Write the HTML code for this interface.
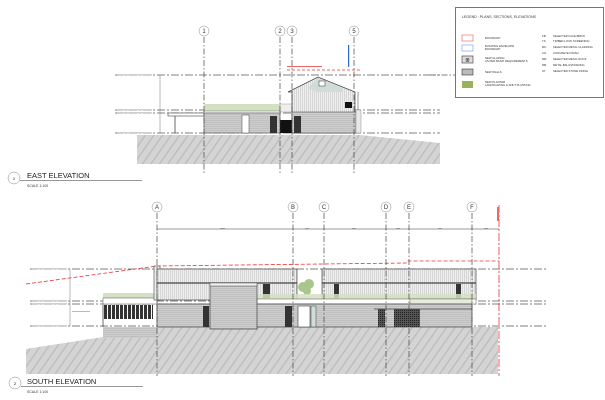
<!DOCTYPE html>
<html><head><meta charset="utf-8"><style>
html,body{margin:0;padding:0;background:#fff;}
svg{display:block;font-family:"Liberation Sans",sans-serif;}
</style></head><body>
<svg width="605" height="400" viewBox="0 0 605 400" xmlns="http://www.w3.org/2000/svg">
<defs>
<pattern id="hatch" width="7" height="7" patternUnits="userSpaceOnUse" patternTransform="rotate(35)">
<rect width="7" height="7" fill="#d4d4d4"/><line x1="0" y1="0" x2="0" y2="7" stroke="#bbb" stroke-width="2.5"/></pattern>
<pattern id="vstripe" width="2" height="4" patternUnits="userSpaceOnUse">
<rect width="2" height="4" fill="#efefef"/><line x1="0.5" y1="0" x2="0.5" y2="4" stroke="#bdbdbd" stroke-width="0.5"/></pattern>
<pattern id="brick" width="3" height="2" patternUnits="userSpaceOnUse">
<rect width="3" height="2" fill="#cdcdcd"/><line x1="0" y1="0.5" x2="3" y2="0.5" stroke="#b4b4b4" stroke-width="0.5"/></pattern>
<pattern id="slat" width="4" height="4" patternUnits="userSpaceOnUse">
<rect width="4" height="4" fill="#fff"/><rect width="3" height="4" fill="#333"/></pattern>
<pattern id="screen" width="2" height="2" patternUnits="userSpaceOnUse">
<rect width="2" height="2" fill="#555"/><rect width="1" height="1" fill="#222"/></pattern>
</defs>

<!-- ===== EAST ELEVATION ===== -->
<polygon points="137,135 360,135 430,142 440,143 440,164 137,164" fill="url(#hatch)"/>
<g stroke="#555" stroke-width="0.7" stroke-dasharray="8,2,2,2" fill="none">
<line x1="115" y1="75" x2="440" y2="75"/>
<line x1="115" y1="110" x2="440" y2="110"/>
<line x1="115" y1="113" x2="440" y2="113"/>
<line x1="115" y1="133" x2="440" y2="133"/>
</g>
<line x1="160" y1="75" x2="160" y2="133" stroke="#777" stroke-width="0.5"/>
<g fill="#bbb"><rect x="117" y="74.3" width="35" height="1"/><rect x="117" y="109.3" width="35" height="1"/><rect x="117" y="112.3" width="35" height="1"/><rect x="117" y="132.3" width="35" height="1"/></g>
<rect x="168" y="113" width="36" height="3" fill="#fff" stroke="#444" stroke-width="0.6"/>
<line x1="175" y1="116" x2="175" y2="133" stroke="#444" stroke-width="0.8"/>
<rect x="204" y="104" width="76" height="7" fill="#d3e0c2"/>
<rect x="204" y="111" width="76" height="2" fill="#fff" stroke="#555" stroke-width="0.4"/>
<rect x="204" y="113" width="76" height="20" fill="url(#brick)" stroke="#555" stroke-width="0.6"/>
<rect x="242" y="115" width="7" height="18" fill="#fff" stroke="#444" stroke-width="0.5"/>
<rect x="270" y="116" width="7" height="17" fill="#333"/>
<rect x="280" y="104" width="12" height="8" fill="#eee" stroke="#888" stroke-width="0.4"/>
<rect x="280" y="120" width="12" height="13" fill="#111"/>
<polygon points="288,92 318,77 355,92 355,133 292,133 292,92" fill="url(#vstripe)" stroke="#444" stroke-width="0.7"/>
<polygon points="318,78 343,88 343,92 317,92 308,88" fill="#cfdcd9"/>
<rect x="319" y="81" width="6" height="5" fill="#fff" stroke="#333" stroke-width="0.5"/>
<rect x="292" y="112" width="64" height="21" fill="url(#brick)" stroke="#555" stroke-width="0.6"/>
<rect x="294" y="116" width="7" height="17" fill="#333"/>
<rect x="345" y="102" width="7" height="6" fill="#111"/>
<line x1="358" y1="92" x2="358" y2="110" stroke="#555" stroke-width="0.6"/>
<rect x="356" y="110" width="5" height="23" fill="#e8e8e8" stroke="#777" stroke-width="0.4"/>
<line x1="287" y1="70" x2="360" y2="70" stroke="#e33" stroke-width="0.7" stroke-dasharray="3,2"/>
<rect x="287" y="66" width="35" height="1" fill="#e66"/>
<rect x="348" y="45" width="1.2" height="22" fill="#36c"/>
<g stroke="#444" stroke-width="0.7" stroke-dasharray="6,2,1.5,2">
<line x1="204" y1="37" x2="204" y2="174"/><line x1="280" y1="37" x2="280" y2="174"/>
<line x1="292" y1="37" x2="292" y2="174"/><line x1="354" y1="37" x2="354" y2="174"/>
</g>
<g fill="#fff" stroke="#888" stroke-width="0.5">
<circle cx="204" cy="31" r="5"/><circle cx="280" cy="31" r="5"/><circle cx="292" cy="31" r="5"/><circle cx="354" cy="31" r="5"/>
</g>
<g font-size="6" text-anchor="middle" fill="#333">
<text x="204" y="33.2">1</text><text x="280" y="33.2">2</text><text x="292" y="33.2">3</text><text x="354" y="33.2">5</text>
</g>
<circle cx="14" cy="178" r="6" fill="#fff" stroke="#888" stroke-width="0.5"/>
<text x="14" y="180" font-size="4" text-anchor="middle">1</text>
<text x="27" y="178" font-size="7.5" fill="#222">EAST ELEVATION</text>
<line x1="20" y1="180.5" x2="142" y2="180.5" stroke="#333" stroke-width="0.5"/>
<text x="27" y="187" font-size="3.5" fill="#333">SCALE  1:100</text>

<!-- ===== LEGEND ===== -->
<rect x="455.5" y="7.5" width="148" height="90" fill="#fff" stroke="#555" stroke-width="0.8"/>
<text x="462" y="18" font-size="3.6" fill="#333">LEGEND : PLANS, SECTIONS, ELEVATIONS</text>
<rect x="462" y="35" width="11" height="6" fill="#fff" stroke="#e55" stroke-width="0.6"/>
<rect x="462" y="45" width="11" height="6" fill="#fff" stroke="#69f" stroke-width="0.6"/>
<rect x="462" y="56" width="11" height="7" fill="#ddd" stroke="#333" stroke-width="0.6"/>
<text x="467.5" y="61.5" font-size="5" text-anchor="middle">⊞</text>
<rect x="462" y="69" width="11" height="6" fill="#bbb" stroke="#333" stroke-width="0.6"/>
<rect x="462" y="81" width="11" height="7" fill="#9ab35a"/>
<g font-size="2.8" fill="#333">
<text x="485" y="39">BOUNDARY</text>
<text x="485" y="47">BUILDING ENVELOPE</text><text x="485" y="50">BOUNDARY</text>
<text x="485" y="59">NEW GLAZING</text><text x="485" y="62">AS PER BASIX REQUIREMENTS</text>
<text x="485" y="73">NEW WALLS</text>
<text x="485" y="83">NEW PLANTER</text><text x="485" y="86">LANDSCAPING &amp; SOFT PLANTING</text>
<text x="542" y="37">FB</text><text x="553" y="37">SELECTED FACE BRICK</text>
<text x="542" y="42">TS</text><text x="553" y="42">TIMBER LOOK SCREENING</text>
<text x="542" y="48">MC</text><text x="553" y="48">SELECTED METAL CLADDING</text>
<text x="542" y="54">CO</text><text x="553" y="54">CONCRETE FINISH</text>
<text x="542" y="60">MR</text><text x="553" y="60">SELECTED METAL ROOF</text>
<text x="542" y="66">MB</text><text x="553" y="66">METAL BALUSTRADING</text>
<text x="542" y="72">ST</text><text x="553" y="72">SELECTED STONE FINISH</text>
</g>
<line x1="430" y1="75" x2="455" y2="75" stroke="#555" stroke-width="0.7" stroke-dasharray="6,2,1.5,2"/>

<!-- ===== SOUTH ELEVATION ===== -->
<polygon points="26,349 103,337 103,327 498,327 498,374 26,374" fill="url(#hatch)"/>
<rect x="103" y="327" width="54" height="11" fill="url(#brick)"/>
<g stroke="#555" stroke-width="0.7" stroke-dasharray="8,2,2,2" fill="none">
<line x1="30" y1="269" x2="547" y2="269"/>
<line x1="30" y1="301" x2="547" y2="301"/>
<line x1="30" y1="304" x2="547" y2="304"/>
<line x1="30" y1="326" x2="547" y2="326"/>
</g>
<line x1="70" y1="269" x2="70" y2="326" stroke="#777" stroke-width="0.5"/>
<g fill="#bbb"><rect x="32" y="268.3" width="35" height="1"/><rect x="32" y="300.3" width="35" height="1"/><rect x="32" y="303.3" width="35" height="1"/><rect x="32" y="325.3" width="35" height="1"/><rect x="72" y="311" width="18" height="1"/></g>
<polyline points="26,284 157,266 406,263 407,261 499,261" fill="none" stroke="#e33" stroke-width="0.8" stroke-dasharray="4,2"/>
<line x1="499" y1="205" x2="499" y2="376" stroke="#e33" stroke-width="0.8" stroke-dasharray="8,2,2,2"/>
<rect x="497" y="207" width="2" height="14" fill="#e66"/>
<rect x="103" y="293" width="54" height="5" fill="#d3e0c2"/>
<rect x="103" y="298" width="54" height="6" fill="#fff" stroke="#555" stroke-width="0.5"/>
<rect x="103" y="305" width="50" height="14" fill="url(#slat)"/>
<line x1="103" y1="305" x2="103" y2="327" stroke="#444" stroke-width="0.8"/>
<rect x="154" y="266" width="6" height="34" fill="#eee" stroke="#444" stroke-width="0.6"/>
<rect x="157" y="269" width="140" height="31" fill="url(#vstripe)" stroke="#444" stroke-width="0.7"/>
<line x1="157" y1="283" x2="297" y2="283" stroke="#444" stroke-width="1.2"/>
<rect x="263" y="284" width="7" height="14" fill="#333"/>
<g fill="#8db563" opacity="0.75"><circle cx="303" cy="287" r="5"/><circle cx="309" cy="284" r="5"/><circle cx="307" cy="291" r="4"/></g>
<rect x="322" y="269" width="154" height="31" fill="url(#vstripe)" stroke="#444" stroke-width="0.7"/>
<line x1="322" y1="283" x2="476" y2="283" stroke="#444" stroke-width="1.2"/>
<rect x="334" y="284" width="5" height="14" fill="#333"/>
<rect x="456" y="284" width="5" height="14" fill="#333"/>
<rect x="257" y="294" width="219" height="5" fill="#d3e0c2" opacity="0.85"/>
<rect x="257" y="299" width="219" height="5" fill="#fff" stroke="#555" stroke-width="0.5"/>
<rect x="410" y="299" width="62" height="5" fill="#e6ecdc" stroke="#555" stroke-width="0.4"/>
<rect x="157" y="304" width="315" height="23" fill="url(#brick)" stroke="#444" stroke-width="0.7"/>
<rect x="210" y="283" width="47" height="46" fill="url(#brick)" stroke="#444" stroke-width="0.7"/>
<rect x="210" y="283" width="47" height="3" fill="#eef4f0" stroke="#444" stroke-width="0.5"/>
<rect x="203" y="306" width="6" height="21" fill="#333"/>
<rect x="285" y="306" width="7" height="21" fill="#333"/>
<rect x="298" y="306" width="12" height="21" fill="#fff" stroke="#444" stroke-width="0.6"/>
<rect x="311" y="306" width="5" height="21" fill="#cfdcd9" stroke="#444" stroke-width="0.5"/>
<rect x="378" y="309" width="7" height="18" fill="url(#screen)"/>
<rect x="394" y="309" width="26" height="18" fill="url(#screen)"/>
<line x1="374" y1="309" x2="472" y2="309" stroke="#444" stroke-width="0.7"/>
<g stroke="#444" stroke-width="0.7" stroke-dasharray="6,2,1.5,2">
<line x1="157" y1="213" x2="157" y2="376"/><line x1="293" y1="213" x2="293" y2="376"/>
<line x1="324" y1="213" x2="324" y2="376"/><line x1="386" y1="213" x2="386" y2="376"/>
<line x1="409" y1="213" x2="409" y2="376"/><line x1="472" y1="213" x2="472" y2="376"/>
</g>
<line x1="157" y1="229" x2="499" y2="229" stroke="#333" stroke-width="0.6"/>
<g fill="#999"><rect x="220" y="228" width="5" height="1"/><rect x="305" y="228" width="4" height="1"/><rect x="352" y="228" width="4" height="1"/><rect x="396" y="228" width="4" height="1"/><rect x="438" y="228" width="4" height="1"/><rect x="484" y="228" width="4" height="1"/></g>
<g fill="#fff" stroke="#888" stroke-width="0.5">
<circle cx="157" cy="207" r="5"/><circle cx="293" cy="207" r="5"/><circle cx="324" cy="207" r="5"/>
<circle cx="386" cy="207" r="5"/><circle cx="409" cy="207" r="5"/><circle cx="472" cy="207" r="5"/>
</g>
<g font-size="6" text-anchor="middle" fill="#333">
<text x="157" y="209.2">A</text><text x="293" y="209.2">B</text><text x="324" y="209.2">C</text>
<text x="386" y="209.2">D</text><text x="409" y="209.2">E</text><text x="472" y="209.2">F</text>
</g>
<circle cx="15" cy="383" r="6" fill="#fff" stroke="#888" stroke-width="0.5"/>
<text x="15" y="385" font-size="4" text-anchor="middle">2</text>
<text x="27" y="384" font-size="7.5" fill="#222">SOUTH ELEVATION</text>
<line x1="21" y1="386.5" x2="143" y2="386.5" stroke="#333" stroke-width="0.5"/>
<text x="27" y="393" font-size="3.5" fill="#333">SCALE  1:100</text>
</svg>
</body></html>
